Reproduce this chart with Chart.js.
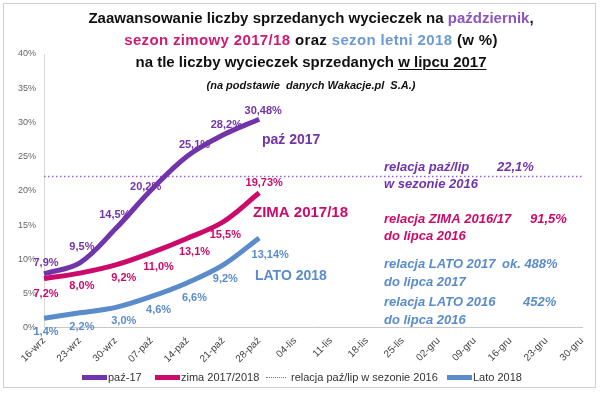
<!DOCTYPE html>
<html>
<head>
<meta charset="utf-8">
<script src="https://cdn.jsdelivr.net/npm/chart.js@4"></script>
<style>
  html, body { margin: 0; padding: 0; background: #fff; }
  #wrap { position: relative; width: 600px; height: 398px; overflow: hidden; font-family: 'Liberation Sans', Arial, sans-serif; }
  #frame { position: absolute; left: 3px; top: 3px; width: 593px; height: 385px; border: 1px solid #d0d0d0; box-sizing: border-box; }
  #title { position: absolute; left: 11px; width: 600px; top: 7px; text-align: center;
           font-weight: bold; font-size: 15px; line-height: 22px; color: #111; }
  #title .l2 { letter-spacing: 0.35px; }
  #title .sub { font-size: 11px; font-style: italic; line-height: 14px; display: inline-block; margin-top: 1px; }
  #title u { text-decoration-thickness: 1px; text-underline-offset: 2px; }
  canvas { position: absolute; left: 0; top: 0; }
  #legend { position: absolute; top: 371px; left: 0; width: 600px; height: 16px; font-size: 11px; color: #333; }
  #legend .it { position: absolute; display: flex; align-items: center; white-space: nowrap; }
  #legend .sw { width: 25px; height: 0; margin-right: 1px; }
</style>
</head>
<body>
<div id="wrap">
  <div id="frame"></div>
  <canvas id="c" width="600" height="398"></canvas>
  <div id="title">
    Zaawansowanie liczby sprzedanych wycieczek na <span style="color:#8b55be">październik</span>,<br>
    <span class="l2"><span style="color:#cc1b74">sezon zimowy 2017/18</span> oraz <span style="color:#6e9ad2">sezon letni 2018</span> (w %)</span><br>
    na tle liczby wycieczek sprzedanych <u>w lipcu 2017</u><br>
    <span class="sub">(na podstawie &nbsp;danych Wakacje.pl &nbsp;S.A.)</span>
  </div>
  <div id="legend"></div>
</div>
<script>
// ── data ────────────────────────────────────────────────
const weeks = ['16-wrz', '23-wrz', '30-wrz', '07-paź', '14-paź', '21-paź', '28-paź', '04-lis',
               '11-lis', '18-lis', '25-lis', '02-gru', '09-gru', '16-gru', '23-gru', '30-gru'];
const paz17   = [7.9, 9.5, 14.5, 20.2, 25.1, 28.2, 30.48];
const zima    = [7.2, 8.0, 9.2, 11.0, 13.1, 15.5, 19.73];
const lato18  = [1.4, 2.2, 3.0, 4.6, 6.6, 9.2, 13.14];
const relPazLip = 22.1;

const PURPLE = '#7234aa', MAGENTA = '#cc0a6a', BLUE = '#5a8ccb', DOTTED = '#9a5cc8';

// label offsets (px) from each point, per series
const labelOff = {
  0: [[2,-11],[2,-16],[-1,-14],[-6,-3],[7,-11],[3,-10],[4,-8]],
  1: [[2,15],[2,13],[8,13],[7,14],[7,14],[2,13],[5,-10]],
  3: [[2,14],[2,14],[8,14],[7,14],[7,15],[2,14],[11,17]]
};
const fmt = (v, i, arr) => (i === arr.length - 1 ? v.toFixed(2) : v.toFixed(1)).replace('.', ',') + '%';

// side notes
const notes = [
  { t: 'paź 2017',      x: 262, y: 140, c: PURPLE,  f: 'bold 14px "Liberation Sans", Arial' },
  { t: 'ZIMA 2017/18',  x: 253, y: 213, c: MAGENTA, f: 'bold 15px "Liberation Sans", Arial' },
  { t: 'LATO 2018',     x: 255, y: 276, c: BLUE,    f: 'bold 14px "Liberation Sans", Arial' },
  { t: 'relacja paź/lip',      x: 384, y: 167, c: PURPLE },
  { t: '22,1%',                x: 497, y: 167, c: PURPLE },
  { t: 'w sezonie 2016',       x: 384, y: 184, c: PURPLE },
  { t: 'relacja ZIMA 2016/17', x: 384, y: 219, c: MAGENTA },
  { t: '91,5%',                x: 530, y: 219, c: MAGENTA },
  { t: 'do lipca 2016',        x: 384, y: 236, c: MAGENTA },
  { t: 'relacja LATO 2017',    x: 384, y: 264, c: BLUE },
  { t: 'ok. 488%',             x: 502, y: 264, c: BLUE },
  { t: 'do lipca 2017',        x: 384, y: 282, c: BLUE },
  { t: 'relacja LATO 2016',    x: 384, y: 302, c: BLUE },
  { t: '452%',                 x: 523, y: 302, c: BLUE },
  { t: 'do lipca 2016',        x: 384, y: 320, c: BLUE }
];

// legend item left edges
const legendX = [82, 155, 266, 447];

const labelsPlugin = {
  id: 'pointLabels',
  afterDatasetsDraw(chart) {
    const ctx = chart.ctx;
    ctx.save();
    ctx.textAlign = 'center';
    ctx.textBaseline = 'middle';
    ctx.font = 'bold 11px "Liberation Sans", Arial, sans-serif';
    Object.keys(labelOff).forEach(di => {
      const ds = chart.data.datasets[di];
      const meta = chart.getDatasetMeta(di);
      ctx.fillStyle = ds.borderColor;
      ds.data.forEach((v, i) => {
        const p = meta.data[i];
        const [dx, dy] = labelOff[di][i];
        ctx.fillText(fmt(v, i, ds.data), p.x + dx, p.y + dy);
      });
    });
    ctx.textAlign = 'left';
    notes.forEach(n => {
      ctx.font = n.f || 'bold italic 13px "Liberation Sans", Arial, sans-serif';
      ctx.fillStyle = n.c;
      ctx.fillText(n.t, n.x, n.y);
    });
    ctx.restore();
  }
};

const chart = new Chart(document.getElementById('c'), {
  type: 'line',
  data: {
    labels: weeks,
    datasets: [
      { label: 'paź-17', data: paz17, borderColor: PURPLE, backgroundColor: PURPLE,
        borderWidth: 5, tension: 0.35, pointRadius: 0 },
      { label: 'zima 2017/2018', data: zima, borderColor: MAGENTA, backgroundColor: MAGENTA,
        borderWidth: 5, tension: 0.35, pointRadius: 0 },
      { label: 'relacja paź/lip w sezonie 2016',
        data: [{ x: weeks[0], y: relPazLip }, { x: weeks[weeks.length - 1], y: relPazLip }],
        borderColor: DOTTED, backgroundColor: DOTTED, borderWidth: 1.5, borderDash: [1.5, 2.5],
        pointRadius: 0 },
      { label: 'Lato 2018', data: lato18, borderColor: BLUE, backgroundColor: BLUE,
        borderWidth: 5, tension: 0.35, pointRadius: 0 }
    ]
  },
  options: {
    responsive: false,
    animation: false,
    layout: { padding: { top: 54, right: 18, left: 10, bottom: 26 } },
    plugins: { legend: { display: false }, tooltip: { enabled: false } },
    scales: {
      x: {
        grid: { display: false, drawTicks: false },
        border: { color: '#c8c8c8' },
        ticks: { minRotation: 45, maxRotation: 45, padding: 7, color: '#444',
                 font: { size: 10, family: '"Liberation Sans", Arial' } }
      },
      y: {
        min: 0, max: 40,
        grid: { display: false, drawTicks: false },
        border: { color: '#d8d8d8' },
        ticks: { stepSize: 5, padding: 8, color: '#666', callback: v => v + '%',
                 font: { size: 9, family: '"Liberation Sans", Arial' } }
      }
    }
  },
  plugins: [labelsPlugin]
});

// HTML legend built from the chart's datasets
const leg = document.getElementById('legend');
chart.data.datasets.forEach((ds, i) => {
  const dotted = !!ds.borderDash;
  const it = document.createElement('div');
  it.className = 'it';
  it.style.left = legendX[i] + 'px';
  it.innerHTML = `<span class="sw" style="border-top:${dotted ? '1.5px dotted' : '5px solid'} ${ds.borderColor};${dotted ? 'width:20px;margin-right:5px' : ''}"></span>${ds.label}`;
  leg.appendChild(it);
});
</script>
</body>
</html>
